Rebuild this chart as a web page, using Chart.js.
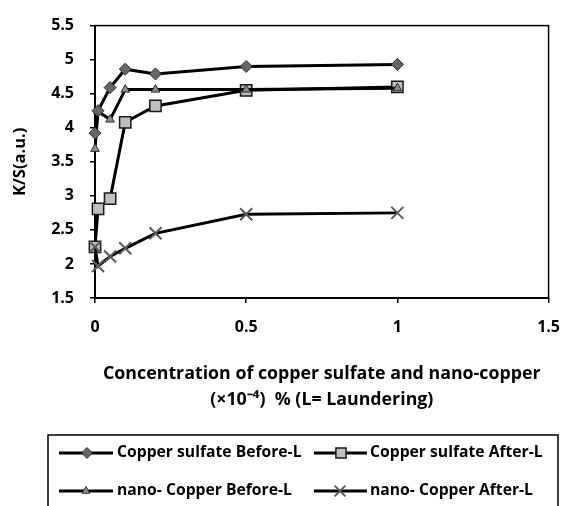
<!DOCTYPE html>
<html>
<head>
<meta charset="utf-8">
<script src="https://cdn.jsdelivr.net/npm/chart.js@4.4.0/dist/chart.umd.min.js"></script>
<style>
  html, body { margin: 0; padding: 0; background: #fff; }
  #wrap { width: 575px; height: 506px; position: relative; }
</style>
</head>
<body>
<div id="wrap"><canvas id="ksChart"></canvas></div>
<script>
// Data
const concentration = [0, 0.01, 0.05, 0.1, 0.2, 0.5, 1];
const cuSulfateBefore = [3.92, 4.25, 4.59, 4.86, 4.79, 4.90, 4.93];
const cuSulfateAfter = [2.25, 2.81, 2.96, 4.08, 4.32, 4.55, 4.60];
const nanoCuBefore = [3.69, 4.24, 4.12, 4.56, 4.56, 4.56, 4.58];
const nanoCuAfter = [2.25, 1.97, 2.11, 2.23, 2.45, 2.73, 2.75];

const seriesNames = [
  'Copper sulfate Before-L',
  'Copper sulfate After-L',
  'nano- Copper Before-L',
  'nano- Copper After-L'
];
const xTicks = [0, 0.5, 1, 1.5];
const yTicks = [1.5, 2, 2.5, 3, 3.5, 4, 4.5, 5, 5.5];

const FONT = '"Open Sans", sans-serif';

function pts(ys) {
  return concentration.map((x, i) => ({ x: x, y: ys[i] }));
}

// marker styles per series (same order as seriesNames)
const markers = [
  { pointStyle: 'rectRot', radius: 6, bg: '#666666', border: '#2b2b2b', bw: 1 },
  { pointStyle: 'rect', radius: 8, bg: '#bfbfbf', border: '#1a1a1a', bw: 1.5 },
  { pointStyle: 'triangle', radius: 5, bg: '#8c8c8c', border: '#2b2b2b', bw: 1 },
  { pointStyle: 'crossRot', radius: 8.5, bg: '#5a5a5a', border: '#5a5a5a', bw: 2 }
];
const seriesData = [cuSulfateBefore, cuSulfateAfter, nanoCuBefore, nanoCuAfter];
// drawing order: lower order ends up on top
const drawOrder = [0, 3, 1, 2];

const datasets = seriesNames.map((name, i) => ({
  label: name,
  data: pts(seriesData[i]),
  showLine: true,
  clip: false,
  borderColor: '#000',
  borderWidth: 3,
  pointStyle: markers[i].pointStyle,
  pointRadius: markers[i].radius,
  pointBackgroundColor: markers[i].bg,
  pointBorderColor: markers[i].border,
  pointBorderWidth: markers[i].bw,
  order: drawOrder[i]
}));

// box around the plot area
const frame = {
  id: 'frame',
  beforeDatasetsDraw(chart) {
    const { ctx, chartArea: a } = chart;
    ctx.save();
    ctx.strokeStyle = '#000';
    ctx.lineWidth = 1.5;
    ctx.strokeRect(a.left, a.top, a.right - a.left, a.bottom - a.top);
    ctx.restore();
  }
};

// Excel style legend box: line + marker + label
const legendBox = {
  id: 'legendBox',
  afterDraw(chart) {
    const ctx = chart.ctx;
    ctx.save();
    ctx.strokeStyle = '#000';
    ctx.lineWidth = 1.5;
    ctx.strokeRect(48, 435, 510, 80);

    const slots = [
      { x0: 59, x1: 113, mx: 87, tx: 117, y: 453 },
      { x0: 314, x1: 367, mx: 341, tx: 370, y: 453 },
      { x0: 59, x1: 113, mx: 86, tx: 117, y: 491 },
      { x0: 314, x1: 367, mx: 340, tx: 370, y: 491 }
    ];
    slots.forEach((s, i) => {
      ctx.strokeStyle = '#000';
      ctx.lineWidth = 3;
      ctx.beginPath();
      ctx.moveTo(s.x0, s.y);
      ctx.lineTo(s.x1, s.y);
      ctx.stroke();
      const m = markers[i];
      ctx.fillStyle = m.bg;
      ctx.strokeStyle = m.border;
      ctx.lineWidth = m.bw;
      Chart.helpers.drawPoint(ctx, { pointStyle: m.pointStyle, radius: m.radius * 0.9, rotation: 0, borderWidth: m.bw }, s.mx, s.y);
      ctx.fillStyle = '#000';
      ctx.font = 'bold 15.7px ' + FONT;
      ctx.textBaseline = 'middle';
      ctx.textAlign = 'left';
      ctx.fillText(seriesNames[i], s.tx, s.y);
    });
    ctx.restore();
  }
};

new Chart(document.getElementById('ksChart'), {
  type: 'scatter',
  data: { datasets: datasets },
  options: {
    responsive: true,
    maintainAspectRatio: false,
    animation: false,
    layout: { padding: { top: 24, right: 13, bottom: 71, left: 0 } },
    plugins: {
      legend: { display: false },
      tooltip: { enabled: false }
    },
    scales: {
      x: {
        type: 'linear',
        min: 0,
        max: 1.5,
        afterBuildTicks: s => { s.ticks = xTicks.map(v => ({ value: v })); },
        afterFit: s => { s.height = 137; },
        ticks: {
          color: '#000',
          font: { family: FONT, size: 16, weight: 'bold' },
          padding: 15,
          callback: v => String(v)
        },
        grid: { drawOnChartArea: false, color: '#000', tickLength: 5, lineWidth: 1.5 },
        border: { color: '#000', width: 2 },
        title: {
          display: true,
          text: ['Concentration of copper sulfate and nano-copper', '(×10\u207B\u2074)  % (L= Laundering)'],
          color: '#000',
          font: { family: FONT, size: 17.8, weight: 'bold', lineHeight: '26px' },
          padding: { top: 0, bottom: 22 }
        }
      },
      y: {
        type: 'linear',
        min: 1.5,
        max: 5.5,
        afterBuildTicks: s => { s.ticks = yTicks.map(v => ({ value: v })); },
        afterFit: s => { s.width = 95; },
        ticks: {
          color: '#000',
          font: { family: FONT, size: 16, weight: 'bold' },
          padding: 16,
          callback: v => String(v)
        },
        grid: { drawOnChartArea: false, color: '#000', tickLength: 5, lineWidth: 1.5 },
        border: { color: '#000', width: 2 },
        title: {
          display: true,
          text: 'K/S(a.u.)',
          color: '#000',
          font: { family: FONT, size: 16.5, weight: 'bold', lineHeight: '20px' },
          padding: { top: 10, bottom: 0 }
        }
      }
    }
  },
  plugins: [frame, legendBox]
});
</script>
</body>
</html>
